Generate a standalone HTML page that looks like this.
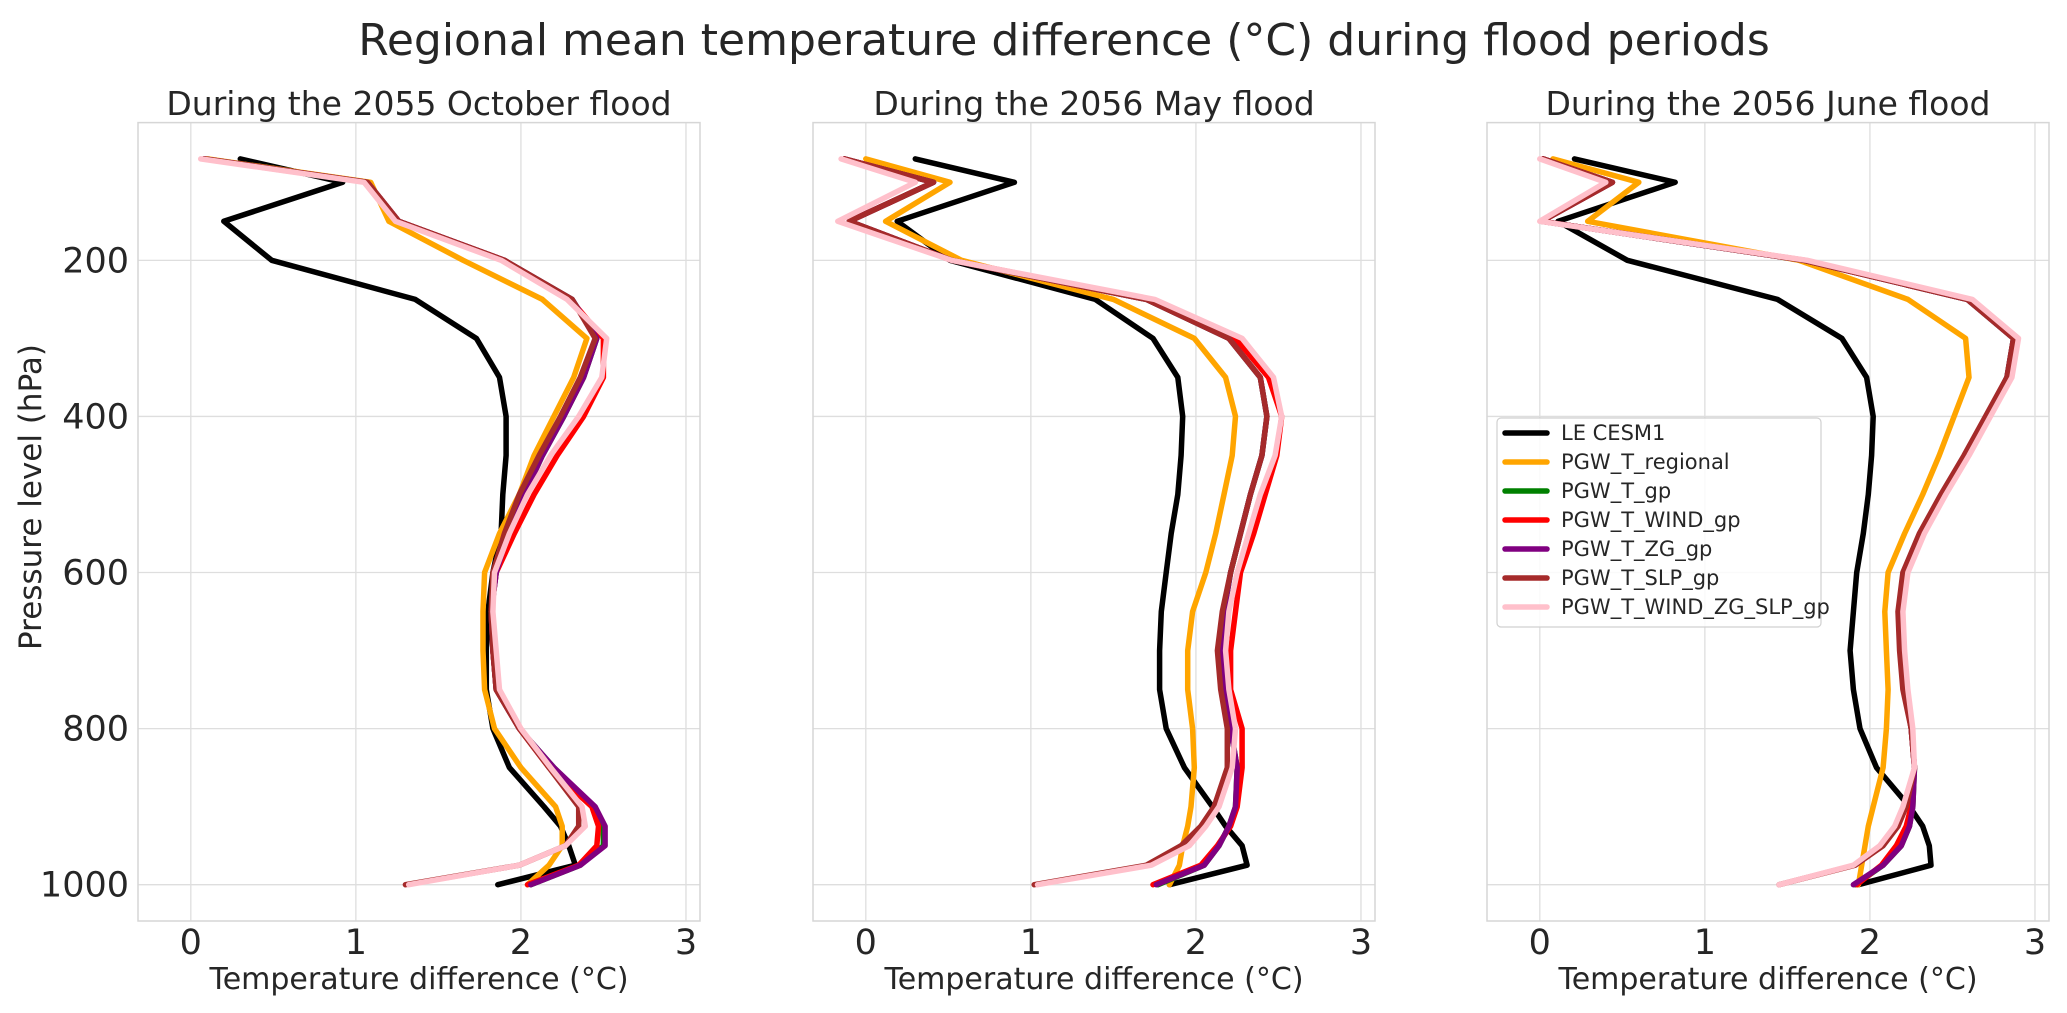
<!DOCTYPE html>
<html><head><meta charset="utf-8"><style>
html,body{margin:0;padding:0;background:#fff;}
svg{display:block;font-family:"DejaVu Sans","Liberation Sans",sans-serif;}
</style></head><body>
<svg id="fig" width="2067" height="1013" viewBox="0 0 2067 1013" xmlns="http://www.w3.org/2000/svg">
<rect width="2067" height="1013" fill="#fff"/>
<text x="1064" y="55" font-size="44" text-anchor="middle" fill="#262626">Regional mean temperature difference (°C) during flood periods</text>
<text transform="translate(41,497) rotate(-90)" font-size="31" text-anchor="middle" fill="#262626">Pressure level (hPa)</text>
</svg>
<script>
const levels = [70,100,150,200,250,300,350,400,450,500,550,600,650,700,750,800,850,900,925,950,975,1000];
const panelTitles = ["During the 2055 October flood","During the 2056 May flood","During the 2056 June flood"];
const seriesNames = ["LE CESM1","PGW_T_regional","PGW_T_gp","PGW_T_WIND_gp","PGW_T_ZG_gp","PGW_T_SLP_gp","PGW_T_WIND_ZG_SLP_gp"];
const xTicks = [0,1,2,3];
const yTicks = [200,400,600,800,1000];

const p1_le   = [0.30,0.92,0.20,0.49,1.36,1.73,1.87,1.91,1.91,1.89,1.88,1.83,1.80,1.79,1.79,1.83,1.93,2.14,2.24,2.29,2.33,1.86];
const p1_reg  = [0.10,1.09,1.20,1.65,2.13,2.40,2.32,2.20,2.08,1.99,1.87,1.78,1.77,1.77,1.78,1.84,2.00,2.21,2.25,2.25,2.17,2.04];
const p1_t    = [0.08,1.07,1.26,1.90,2.31,2.46,2.38,2.26,2.13,2.02,1.92,1.85,1.82,1.83,1.85,1.99,2.20,2.44,2.50,2.50,2.36,2.06];
const p1_wind = [0.08,1.07,1.26,1.90,2.30,2.50,2.50,2.38,2.22,2.08,1.96,1.85,1.82,1.83,1.85,1.99,2.17,2.43,2.47,2.46,2.35,2.04];
const p1_zg   = [0.08,1.07,1.26,1.90,2.31,2.46,2.38,2.26,2.13,2.02,1.92,1.85,1.82,1.83,1.85,1.99,2.20,2.45,2.51,2.51,2.36,2.06];
const p1_slp  = [0.08,1.07,1.26,1.90,2.31,2.45,2.36,2.24,2.11,1.99,1.90,1.83,1.82,1.83,1.85,1.99,2.17,2.35,2.35,2.27,1.99,1.30];
const p1_all  = [0.06,1.05,1.24,1.88,2.28,2.52,2.49,2.35,2.18,2.04,1.93,1.84,1.83,1.85,1.87,2.00,2.18,2.37,2.39,2.27,1.99,1.32];

const p2_le   = [0.30,0.90,0.19,0.51,1.39,1.74,1.89,1.92,1.91,1.89,1.85,1.82,1.79,1.78,1.78,1.82,1.93,2.10,2.18,2.28,2.31,1.84];
const p2_reg  = [0.00,0.51,0.12,0.58,1.50,1.99,2.18,2.24,2.22,2.17,2.12,2.06,1.98,1.95,1.95,1.98,1.99,1.97,1.95,1.92,1.90,1.84];
const p2_t    = [-0.13,0.41,-0.10,0.52,1.70,2.20,2.39,2.43,2.40,2.33,2.27,2.21,2.17,2.15,2.17,2.21,2.25,2.24,2.20,2.14,2.05,1.77];
const p2_wind = [-0.13,0.41,-0.10,0.52,1.72,2.24,2.44,2.52,2.49,2.42,2.35,2.27,2.24,2.21,2.21,2.28,2.28,2.25,2.21,2.13,2.03,1.74];
const p2_zg   = [-0.13,0.41,-0.10,0.52,1.70,2.20,2.39,2.43,2.40,2.33,2.27,2.21,2.17,2.15,2.17,2.21,2.25,2.24,2.20,2.14,2.05,1.76];
const p2_slp  = [-0.13,0.41,-0.10,0.52,1.70,2.20,2.39,2.43,2.40,2.33,2.27,2.21,2.16,2.13,2.15,2.19,2.19,2.11,2.03,1.91,1.70,1.02];
const p2_all  = [-0.15,0.30,-0.17,0.52,1.75,2.28,2.47,2.52,2.48,2.39,2.32,2.25,2.20,2.18,2.20,2.24,2.22,2.14,2.06,1.96,1.73,1.04];

const p3_le   = [0.21,0.82,0.11,0.53,1.44,1.83,1.98,2.02,2.01,1.99,1.96,1.92,1.90,1.88,1.90,1.94,2.04,2.24,2.32,2.36,2.37,1.93];
const p3_reg  = [0.08,0.60,0.29,1.57,2.23,2.58,2.60,2.51,2.42,2.32,2.21,2.11,2.09,2.10,2.11,2.10,2.08,2.02,1.99,1.97,1.95,1.93];
const p3_t    = [0.02,0.44,0.01,1.60,2.59,2.87,2.83,2.71,2.58,2.44,2.31,2.21,2.18,2.19,2.21,2.25,2.27,2.26,2.24,2.19,2.08,1.91];
const p3_wind = [0.02,0.44,0.01,1.61,2.60,2.88,2.84,2.72,2.59,2.45,2.32,2.22,2.19,2.20,2.22,2.25,2.27,2.25,2.22,2.16,2.07,1.92];
const p3_zg   = [0.02,0.44,0.01,1.60,2.59,2.87,2.83,2.71,2.58,2.44,2.31,2.21,2.18,2.19,2.21,2.25,2.27,2.26,2.24,2.19,2.08,1.90];
const p3_slp  = [0.02,0.44,0.01,1.60,2.59,2.87,2.83,2.70,2.57,2.43,2.30,2.20,2.17,2.18,2.20,2.25,2.27,2.22,2.17,2.08,1.91,1.45];
const p3_all  = [0.00,0.40,0.00,1.62,2.62,2.90,2.86,2.73,2.60,2.46,2.33,2.23,2.20,2.21,2.23,2.26,2.27,2.20,2.15,2.06,1.90,1.45];

const panels = [
  [p1_le,p1_reg,p1_t,p1_wind,p1_zg,p1_slp,p1_all],
  [p2_le,p2_reg,p2_t,p2_wind,p2_zg,p2_slp,p2_all],
  [p3_le,p3_reg,p3_t,p3_wind,p3_zg,p3_slp,p3_all]
];
const colors = ["#000000","#ffa500","#008000","#ff0000","#800080","#a52a2a","#ffc0cb"];
const seriesKeys = ["le-cesm1","pgw-t-regional","pgw-t-gp","pgw-t-wind-gp","pgw-t-zg-gp","pgw-t-slp-gp","pgw-t-wind-zg-slp-gp"];

const NS = "http://www.w3.org/2000/svg";
const svg = document.getElementById("fig");
function mk(tag, attrs, parent){
  const e = document.createElementNS(NS, tag);
  for (const k in attrs) e.setAttribute(k, attrs[k]);
  (parent||svg).appendChild(e);
  return e;
}
const XMIN=-0.32, XMAX=3.085, YMIN=23.5, YMAX=1046.5;
const TOP=122.6, BOT=921, PW=562;
const lefts=[138,813,1487];
function yScale(p){ return TOP + (p-YMIN)/(YMAX-YMIN)*(BOT-TOP); }

panels.forEach((series, pi) => {
  const L = lefts[pi];
  const xScale = v => L + (v-XMIN)/(XMAX-XMIN)*PW;
  const g = mk("g", {});
  
  
  const grid = mk("g", {stroke:"#dedede","stroke-width":1.3}, g);
  
  
  xTicks.forEach(t => { const x=xScale(t); mk("line",{x1:x,x2:x,y1:TOP,y2:BOT},grid); });
  yTicks.forEach(t => { const y=yScale(t); mk("line",{x1:L,x2:L+PW,y1:y,y2:y},grid); });
  const frame = mk("rect",{x:L,y:TOP,width:PW,height:BOT-TOP,fill:"none",stroke:"#d6d6d6","stroke-width":1.5},g);
  
  
  xTicks.forEach(t => {
    const tx = mk("text",{x:xScale(t),y:954,"font-size":35,"text-anchor":"middle",fill:"#262626"},g);
    tx.textContent = t;
    
    
  });
  if (pi===0) yTicks.forEach(t => {
    const ty = mk("text",{x:129,y:yScale(t)+12,"font-size":35,"text-anchor":"end",fill:"#262626"},g);
    ty.textContent = t;
    
    
  });
  const xl = mk("text",{x:L+PW/2,y:989,"font-size":30,"text-anchor":"middle",fill:"#262626"},g);
  xl.textContent = "Temperature difference (°C)";
  
  
  const tt = mk("text",{x:L+PW/2,y:115,"font-size":33,"text-anchor":"middle",fill:"#262626"},g);
  tt.textContent = panelTitles[pi];
  
  
  series.forEach((vals, si) => {
    const pts = vals.map((v,i) => xScale(v).toFixed(1)+","+yScale(levels[i]).toFixed(1)).join(" ");
    const pl = mk("polyline",{points:pts,fill:"none",stroke:colors[si],"stroke-width":5.5,"stroke-linejoin":"round","stroke-linecap":"round"},g);
    
    
  });
});

// legend
const lg = mk("g", {});


mk("rect",{x:1497,y:418,width:324,height:209,rx:4,fill:"#fff","fill-opacity":0.85,stroke:"#d0d0d0","stroke-width":1.2},lg);
seriesNames.forEach((n,i) => {
  const y = 433 + i*29;
  const ln = mk("line",{x1:1505,x2:1547,y1:y,y2:y,stroke:colors[i],"stroke-width":5.5,"stroke-linecap":"round"},lg);
  
  
  const t = mk("text",{x:1561,y:y+7,"font-size":21,fill:"#262626"},lg);
  t.textContent = n;
  
  
});
</script>
</body></html>
